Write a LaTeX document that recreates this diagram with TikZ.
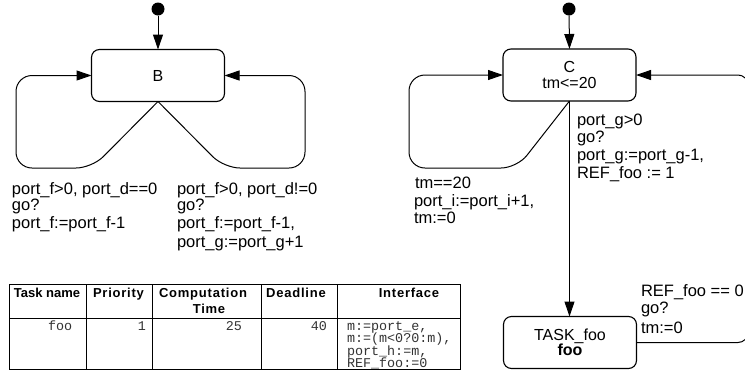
\documentclass[tikz,border=0pt]{standalone}
\usepackage{fontspec}
\setmainfont{Liberation Sans}
\setmonofont{Liberation Mono}
\usetikzlibrary{arrows.meta}
\newcommand\lblfont{\fontsize{16.5}{17.5}\selectfont}
\newcommand\stfont{\fontsize{16}{15.5}\selectfont}
\newcommand\thfont{\fontsize{13}{15}\selectfont\bfseries}
\newcommand\thwide{\addfontfeature{LetterSpace=6}}
\newcommand\tdfont{\fontsize{13.4}{12.5}\selectfont\ttfamily}
\begin{document}
\begin{tikzpicture}[x=1pt,y=-1pt,
  every node/.style={inner sep=0pt, outer sep=0pt},
  lbl/.style={anchor=base west, font=\lblfont},
  state/.style={draw, line width=1.1pt, rounded corners=8pt, minimum width=133pt,
    minimum height=52pt, align=center, font=\stfont},
  arr/.style={line width=1pt, -{Triangle[length=15pt,width=10pt]}},
  loopline/.style={arr, rounded corners=16pt},
  initdot/.style={circle, fill, minimum size=13pt},
  th/.style={anchor=base, font=\thfont},
  thw/.style={anchor=base, font=\thfont\thwide},
  td/.style={font=\tdfont, text=black!80},
  tbl/.style={line width=0.9pt},
]
\useasboundingbox (0,0) rectangle (745,373);

% ---------- automaton B ----------
\node[initdot] (dotB) at (158,9) {};
\node[state] (B) at (158,75.5) {B};
\draw[arr] (dotB) -- (B.north);
\draw[loopline] (B.south) -- (92,168) -- (16,168) |- (B.west);
\draw[loopline] (B.south) -- (224,168) -- (305,168) |- (B.east);

\node[lbl] (lb1) at (12,194) {port\_f>0, port\_d==0};
\node[lbl] (lb2) at (12,210) {go?};
\node[lbl] (lb3) at (12,228) {port\_f:=port\_f-1};

\node[lbl] (rb1) at (177,194) {port\_f>0, port\_d!=0};
\node[lbl] (rb2) at (177,210) {go?};
\node[lbl] (rb3) at (177,228) {port\_f:=port\_f-1,};
\node[lbl] (rb4) at (177,247) {port\_g:=port\_g+1};

% ---------- automaton C ----------
\node[initdot] (dotC) at (569,9) {};
\node[state] (C) at (569.5,75) {C\\tm<=20};
\node[state] (T) at (570,342.5) {TASK\_foo\\\textbf{foo}};
\draw[arr] (dotC) -- (C.north);
\draw[arr] (C.south) -- (C.south |- T.north);
\draw[loopline] (C.south) -- (517,168) -- (409,168) |- (C.west);
\draw[arr, rounded corners=10pt] (T.east) -- (748,342.5) |- (C.east);

\node[lbl] (cg1) at (577,125) {port\_g>0};
\node[lbl] (cg2) at (577,142) {go?};
\node[lbl] (cg3) at (577,160) {port\_g:=port\_g-1,};
\node[lbl] (cg4) at (577,178) {REF\_foo := 1};

\node[lbl] (cl1) at (415,188) {tm==20};
\node[lbl] (cl2) at (414,206) {port\_i:=port\_i+1,};
\node[lbl] (cl3) at (414,223) {tm:=0};

\node[lbl] (tr1) at (641,296) {REF\_foo == 0};
\node[lbl] (tr2) at (641,313) {go?};
\node[lbl] (tr3) at (641,333) {tm:=0};

% ---------- table ----------
\draw[tbl] (9,284) rectangle (460,369);
\draw[tbl] (9,318) -- (460,318);
\foreach \x in {86,152,261,337} \draw[tbl] (\x,284) -- (\x,369);

\node[th] (h1) at (47,297) {Task name};
\node[thw] (h2) at (118.5,297) {Priority};
\node[thw] (h3) at (203,297) {Computation};
\node[thw] (h3b) at (209,313) {Time};
\node[thw] (h4) at (296,297) {Deadline};
\node[thw] (h5) at (409,297) {Interface};

\node[td, anchor=base west] (d1) at (48,330) {foo};
\node[td, anchor=base east] (d2) at (146,330) {1};
\node[td, anchor=base east] (d3) at (242,330) {25};
\node[td, anchor=base east] (d4) at (327,330) {40};
\node[td, anchor=base west] (d5a) at (347,330) {m:=port\_e,};
\node[td, anchor=base west] (d5b) at (347,342.5) {m:=(m<0?0:m),};
\node[td, anchor=base west] (d5c) at (347,355) {port\_h:=m,};
\node[td, anchor=base west] (d5d) at (347,367.5) {REF\_foo:=0};
\end{tikzpicture}
\end{document}
